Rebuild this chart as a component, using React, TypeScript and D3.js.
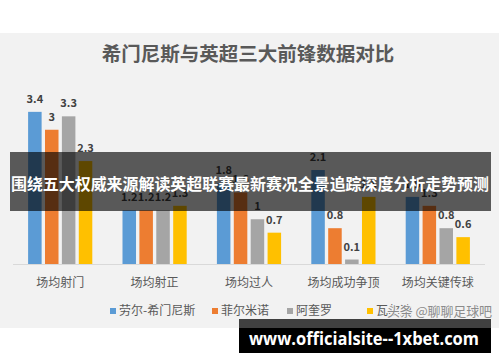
import * as d3 from "d3";

const categories = ["场均射门", "场均射正", "场均过人", "场均成功争顶", "场均关键传球"];
const seriesNames = ["劳尔-希门尼斯", "菲尔米诺", "阿奎罗", "瓦尔迪"];
const jimenez = [3.4, 1.2, 1.8, 2.1, 1.5];
const firmino = [3, 1.2, 1.6, 0.8, 1.3];
const aguero = [3.3, 1.2, 1, 0.1, 0.8];
const vardy = [2.3, 1.3, 0.7, 1.5, 0.6];
const colors = ["#5b9bd5", "#ed7d31", "#a5a5a5", "#ffc000"];

const W = 500;
const H = 362;
const FONT = "'Noto Sans CJK SC', 'Noto Sans', sans-serif";

export default function App() {
  const series = [jimenez, firmino, aguero, vardy];

  // outer bands: one per category
  const x0 = d3
    .scaleBand<string>()
    .domain(categories)
    .range([13, 485])
    .paddingInner(0.32)
    .paddingOuter(0.16);
  // inner bands: one per player
  const x1 = d3
    .scaleBand<string>()
    .domain(seriesNames)
    .range([0, x0.bandwidth()])
    .paddingInner(0.2);
  const y = d3.scaleLinear().domain([0, 4]).range([264, 85]);

  // legend positions (left edge of swatch)
  const legendX = [110, 212, 287, 367];

  return (
    <div style={{ position: "absolute", left: 0, top: 0 }}>
      <svg width={W} height={H} style={{ display: "block", fontFamily: FONT }}>
        <rect x={0} y={0} width={W} height={H} fill="#ffffff" />
        <rect x={0} y={33} width={499} height={295} fill="#f2f2f2" />

        <text
          x={248}
          y={61}
          textAnchor="middle"
          fontSize={19.5}
          fontWeight="bold"
          fill="#595959"
        >
          希门尼斯与英超三大前锋数据对比
        </text>

        <line x1={13} x2={485} y1={y(0) + 0.5} y2={y(0) + 0.5} stroke="#d9d9d9" />

        {categories.map((c, ci) => (
          <g key={c} transform={`translate(${x0(c)},0)`}>
            {series.map((vals, si) => {
              const bx = x1(seriesNames[si]) as number;
              return (
                <g key={si}>
                  <rect
                    x={bx}
                    y={y(vals[ci])}
                    width={x1.bandwidth()}
                    height={y(0) - y(vals[ci])}
                    fill={colors[si]}
                  />
                  <text
                    x={bx + x1.bandwidth() / 2}
                    y={y(vals[ci]) - 9}
                    textAnchor="middle"
                    fontSize={11}
                    fontWeight="bold"
                    fill="#404040"
                  >
                    {vals[ci]}
                  </text>
                </g>
              );
            })}
            <text
              x={x0.bandwidth() / 2}
              y={287}
              textAnchor="middle"
              fontSize={12}
              fill="#595959"
            >
              {c}
            </text>
          </g>
        ))}

        {seriesNames.map((s, i) => (
          <g key={s}>
            <rect x={legendX[i]} y={308} width={6} height={6} fill={colors[i]} />
            <text x={legendX[i] + 9} y={315} fontSize={12} fill="#595959">
              {s}
            </text>
          </g>
        ))}

        {/* overlay banner */}
        <rect x={10} y={152} width={481} height={59} fill="#000000" fillOpacity={0.63} />
        <text
          x={250}
          y={190}
          textAnchor="middle"
          fontSize={16}
          fontWeight="bold"
          fill="#ffffff"
          textLength={478}
          lengthAdjust="spacingAndGlyphs"
        >
          围绕五大权威来源解读英超联赛最新赛况全景追踪深度分析走势预测
        </text>

        {/* source watermark */}
        <text
          x={387}
          y={316}
          fontSize={13}
          fill="#8c8c8c"
          stroke="#f2f2f2"
          strokeWidth={2}
          paintOrder="stroke"
          textLength={105}
        >
          头条 @聊聊足球吧
        </text>

        {/* url strip */}
        <rect x={239} y={319} width={252} height={9} fill="#404040" />
        <rect x={239} y={328} width={252} height={25} fill="#000000" />
        <text
          x={364}
          y={345}
          textAnchor="middle"
          fontSize={17}
          fontWeight="bold"
          fill="#ffffff"
          fontFamily="'Open Sans', 'DejaVu Sans', sans-serif"
          textLength={230}
          lengthAdjust="spacingAndGlyphs"
        >
          www.officialsite--1xbet.com
        </text>
      </svg>
    </div>
  );
}
